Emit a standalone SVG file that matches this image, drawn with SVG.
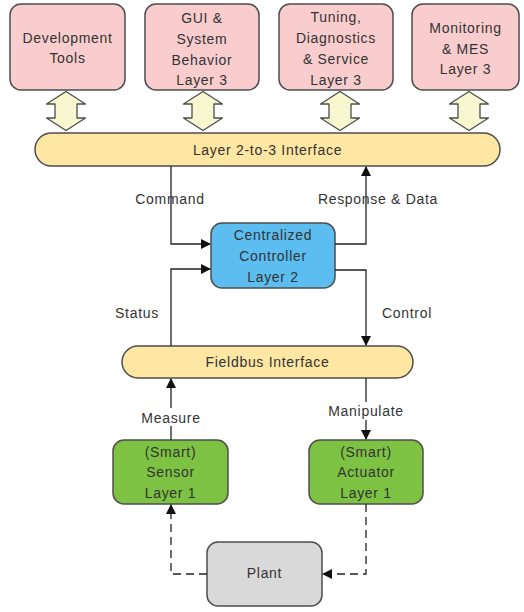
<svg xmlns="http://www.w3.org/2000/svg" width="524" height="612" viewBox="0 0 524 612">
  <style>
    .box { stroke: #4d4d4d; stroke-width: 1.5; }
    .l3 { fill: #f9cdcd; }
    .bus { fill: #fee6a3; }
    .ctl { fill: #5bbdf0; }
    .dev { fill: #7dc242; }
    .plant { fill: #d9d9d9; }
    .dbl { fill: #f7f8cf; stroke: #4d4d4d; stroke-width: 1.3; stroke-linejoin: round; }
    text { font-family: "Liberation Sans", Arial, sans-serif; font-size: 14px; fill: #333333; text-anchor: middle; letter-spacing: 0.7px; }
    .wire { fill: none; stroke: #222222; stroke-width: 1.3; }
    .dash { stroke-dasharray: 8 5; }
    .lbl { fill: #ffffff; }
  </style>
  <defs>
    <marker id="arr" markerWidth="10" markerHeight="10" refX="9" refY="5" orient="auto" markerUnits="userSpaceOnUse">
      <path d="M0,0 L10,5 L0,10 Z" fill="#111111"/>
    </marker>
    <path id="dblarrow" d="M0,-19.5 L19.5,-7 L11,-7 L11,7 L19.5,7 L0,19.5 L-19.5,7 L-11,7 L-11,-7 L-19.5,-7 Z"/>
  </defs>

  <!-- Layer 3 applications -->
  <g id="dev-tools">
    <rect class="box l3" x="10" y="4" width="115" height="86" rx="11"/>
    <text x="67.5" y="43">Development</text>
    <text x="67.5" y="63">Tools</text>
  </g>
  <g id="gui">
    <rect class="box l3" x="145" y="4" width="114" height="86" rx="11"/>
    <text x="202" y="23">GUI &amp;</text>
    <text x="202" y="44">System</text>
    <text x="202" y="65">Behavior</text>
    <text x="202" y="85">Layer 3</text>
  </g>
  <g id="tuning">
    <rect class="box l3" x="279" y="4" width="114" height="86" rx="11"/>
    <text x="336" y="22">Tuning,</text>
    <text x="336" y="43">Diagnostics</text>
    <text x="336" y="64">&amp; Service</text>
    <text x="336" y="85">Layer 3</text>
  </g>
  <g id="monitoring">
    <rect class="box l3" x="412" y="4" width="107" height="86" rx="11"/>
    <text x="465.5" y="33">Monitoring</text>
    <text x="465.5" y="54">&amp; MES</text>
    <text x="465.5" y="74">Layer 3</text>
  </g>

  <!-- Double arrows between layer 3 and interface -->
  <g id="links-l3">
    <use href="#dblarrow" class="dbl" x="66" y="111"/>
    <use href="#dblarrow" class="dbl" x="203" y="111"/>
    <use href="#dblarrow" class="dbl" x="340" y="111"/>
    <use href="#dblarrow" class="dbl" x="469" y="111"/>
  </g>

  <g id="l23-interface">
    <rect class="box bus" x="35" y="133" width="465" height="33" rx="16.5"/>
    <text x="267.5" y="154.5">Layer 2-to-3 Interface</text>
  </g>

  <g id="controller">
    <rect class="box ctl" x="211" y="223" width="124" height="65" rx="11"/>
    <text x="273" y="240">Centralized</text>
    <text x="273" y="261">Controller</text>
    <text x="273" y="282">Layer 2</text>
  </g>

  <g id="fieldbus">
    <rect class="box bus" x="122" y="346" width="291" height="32" rx="16"/>
    <text x="267.5" y="367">Fieldbus Interface</text>
  </g>

  <g id="sensor">
    <rect class="box dev" x="113" y="440" width="115" height="64" rx="11"/>
    <text x="170.5" y="457">(Smart)</text>
    <text x="170.5" y="477">Sensor</text>
    <text x="170.5" y="498">Layer 1</text>
  </g>

  <g id="actuator">
    <rect class="box dev" x="309" y="440" width="114" height="64" rx="11"/>
    <text x="366" y="457">(Smart)</text>
    <text x="366" y="477">Actuator</text>
    <text x="366" y="498">Layer 1</text>
  </g>

  <g id="plant">
    <rect class="box plant" x="207" y="542" width="115" height="64" rx="11"/>
    <text x="264.5" y="578">Plant</text>
  </g>

  <!-- Signal connectors -->
  <g id="connectors">
    <path class="wire" d="M171,166 V244 H210" marker-end="url(#arr)"/>
    <path class="wire" d="M335,244 H366 V167" marker-end="url(#arr)"/>
    <path class="wire" d="M171,346 V269 H210" marker-end="url(#arr)"/>
    <path class="wire" d="M335,270 H366 V345" marker-end="url(#arr)"/>
    <path class="wire" d="M171,440 V379" marker-end="url(#arr)"/>
    <path class="wire" d="M366,378 V439" marker-end="url(#arr)"/>
    <path class="wire dash" d="M207,574 H171 V505" marker-end="url(#arr)"/>
    <path class="wire dash" d="M366,504 V574 H323" marker-end="url(#arr)"/>

    <rect class="lbl" x="142" y="408" width="58" height="18"/>
    <rect class="lbl" x="325" y="402" width="82" height="18"/>

    <text x="170" y="204">Command</text>
    <text x="378" y="204">Response &amp; Data</text>
    <text x="137" y="318">Status</text>
    <text x="407" y="318">Control</text>
    <text x="171" y="423">Measure</text>
    <text x="366" y="416">Manipulate</text>
  </g>
</svg>
